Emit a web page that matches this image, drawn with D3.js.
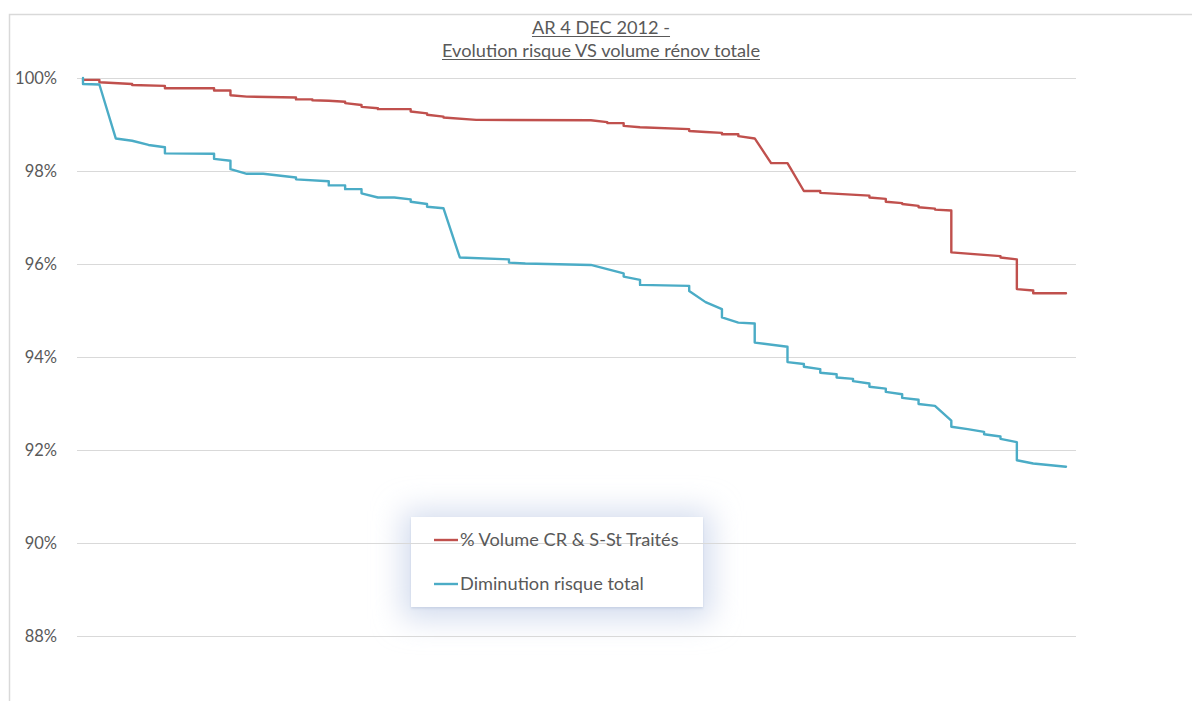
<!DOCTYPE html>
<html>
<head>
<meta charset="utf-8">
<script src="https://cdn.jsdelivr.net/npm/d3@7"></script>
<style>
  html, body { margin: 0; padding: 0; background: #ffffff; }
  svg { display: block; }
  text { font-family: Lato, "Open Sans", sans-serif; fill: #595959; }
</style>
</head>
<body>
<svg id="chart" width="1192" height="701"></svg>
<script>
// Title lines
const titleLines = ["AR 4 DEC 2012 -", "Evolution risque VS volume rénov totale"];

// Y axis ticks (percent) and their labels
const yTicks = [88, 90, 92, 94, 96, 98, 100];
const yTickLabels = ["88%", "90%", "92%", "94%", "96%", "98%", "100%"];

// Series names
const seriesNames = ["% Volume CR & S-St Traités", "Diminution risque total"];

// % Volume CR & S-St Traités : [step index, value %]
const volumePoints = [
  [0, 99.96], [1, 99.96], [1, 99.91], [3, 99.87], [3, 99.85], [5, 99.83], [5, 99.78],
  [8, 99.78], [8, 99.73], [9, 99.73], [9, 99.63], [10, 99.60], [13, 99.58], [13, 99.54],
  [14, 99.54], [14, 99.52], [15, 99.51], [16, 99.49], [16, 99.46], [17, 99.42], [17, 99.38],
  [18, 99.35], [18, 99.33], [20, 99.33], [20, 99.28], [21, 99.24], [21, 99.21], [22, 99.17],
  [22, 99.15], [24, 99.10], [31, 99.09], [32, 99.05], [32, 99.03], [33, 99.03], [33, 98.97],
  [34, 98.94], [37, 98.90], [37, 98.86], [38, 98.84], [39, 98.82], [39, 98.79], [40, 98.79],
  [40, 98.75], [41, 98.70], [42, 98.17], [43, 98.17], [44, 97.57], [45, 97.57], [45, 97.53],
  [48, 97.47], [48, 97.43], [49, 97.40], [49, 97.34], [50, 97.31], [50, 97.29], [51, 97.25],
  [51, 97.22], [52, 97.19], [52, 97.17], [53, 97.15], [53, 96.25], [56, 96.17], [56, 96.14],
  [57, 96.10], [57, 95.46], [58, 95.43], [58, 95.37], [60, 95.37]
];

// Diminution risque total : [step index, value %]
const riskPoints = [
  [0, 100.0], [0, 99.87], [1, 99.86], [2, 98.70], [3, 98.65], [4, 98.56], [5, 98.51],
  [5, 98.38], [8, 98.37], [8, 98.26], [9, 98.22], [9, 98.04], [10, 97.94], [11, 97.94],
  [13, 97.86], [13, 97.82], [15, 97.78], [15, 97.69], [16, 97.69], [16, 97.61], [17, 97.61],
  [17, 97.52], [18, 97.43], [19, 97.43], [20, 97.39], [20, 97.34], [21, 97.29], [21, 97.23],
  [22, 97.20], [23, 96.14], [26, 96.10], [26, 96.03], [27, 96.01], [31, 95.98], [32, 95.89],
  [33, 95.80], [33, 95.73], [34, 95.66], [34, 95.55], [37, 95.53], [37, 95.42], [38, 95.18],
  [39, 95.03], [39, 94.85], [40, 94.74], [41, 94.72], [41, 94.31], [43, 94.22], [43, 93.89],
  [44, 93.85], [44, 93.79], [45, 93.74], [45, 93.66], [46, 93.63], [46, 93.56], [47, 93.53],
  [47, 93.48], [48, 93.43], [48, 93.36], [49, 93.32], [49, 93.25], [50, 93.20], [50, 93.12],
  [51, 93.08], [51, 92.99], [52, 92.95], [53, 92.63], [53, 92.50], [54, 92.45], [55, 92.39],
  [55, 92.34], [56, 92.29], [56, 92.24], [57, 92.17], [57, 91.78], [58, 91.71], [60, 91.64]
];

const seriesColors = ["#C0504D", "#4BACC6"];

const svg = d3.select("#chart");

// Chart frame
svg.append("rect")
  .attr("x", 9.5).attr("y", 14.5)
  .attr("width", 1300).attr("height", 800)
  .attr("fill", "#ffffff")
  .attr("stroke", "#d9d9d9").attr("stroke-width", 1.5);

// Scales
const x = d3.scaleLinear().domain([0, 60]).range([83, 1066]);
const y = d3.scaleLinear().domain([88, 100]).range([636, 78]);
const gridLeft = 77, gridRight = 1076;

// Legend (drawn below the grid so grid lines pass over it)
const defs = svg.append("defs");
const glow = defs.append("filter").attr("id", "glow")
  .attr("x", "-50%").attr("y", "-80%").attr("width", "200%").attr("height", "260%");
glow.append("feGaussianBlur").attr("stdDeviation", 15);
const edge = defs.append("filter").attr("id", "edge")
  .attr("x", "-10%").attr("y", "-20%").attr("width", "120%").attr("height", "150%");
edge.append("feDropShadow").attr("dx", 0).attr("dy", 1.5)
  .attr("stdDeviation", 1.2).attr("flood-color", "#b8c4da").attr("flood-opacity", 0.6);

const legend = { x: 411, y: 517, w: 292, h: 90 };
svg.append("rect")
  .attr("x", legend.x - 8).attr("y", legend.y - 6)
  .attr("width", legend.w + 16).attr("height", legend.h + 18)
  .attr("fill", "#d3dcee")
  .attr("filter", "url(#glow)");
svg.append("rect")
  .attr("x", legend.x).attr("y", legend.y)
  .attr("width", legend.w).attr("height", legend.h)
  .attr("fill", "#ffffff")
  .attr("filter", "url(#edge)");

// Grid lines
svg.append("g").selectAll("line")
  .data(yTicks)
  .join("line")
  .attr("x1", gridLeft).attr("x2", gridRight)
  .attr("y1", d => Math.round(y(d)) + 0.5).attr("y2", d => Math.round(y(d)) + 0.5)
  .attr("stroke", "#d9d9d9").attr("stroke-width", 1.2);

// Y axis labels
const yAxis = d3.axisLeft(y)
  .tickValues(yTicks)
  .tickFormat((d, i) => yTickLabels[i])
  .tickSize(0)
  .tickPadding(0);
const yAxisG = svg.append("g")
  .attr("transform", "translate(57,0)")
  .call(yAxis);
yAxisG.select(".domain").remove();
yAxisG.selectAll("text")
  .attr("font-family", "Lato, 'Open Sans', sans-serif")
  .attr("font-size", 16.5)
  .attr("fill", "#595959")
  .attr("dy", "0.36em");

// Series lines
const line = d3.line().x(d => x(d[0])).y(d => y(d[1]));
[volumePoints, riskPoints].forEach((pts, i) => {
  svg.append("path")
    .datum(pts)
    .attr("d", line)
    .attr("fill", "none")
    .attr("stroke", seriesColors[i])
    .attr("stroke-width", 2.4)
    .attr("stroke-linejoin", "round")
    .attr("stroke-linecap", "round");
});

// Legend entries
const legendRows = [540, 584];
seriesNames.forEach((name, i) => {
  svg.append("line")
    .attr("x1", 434).attr("x2", 458)
    .attr("y1", legendRows[i]).attr("y2", legendRows[i])
    .attr("stroke", seriesColors[i]).attr("stroke-width", 2.4);
  svg.append("text")
    .attr("x", 460).attr("y", legendRows[i] + 6)
    .attr("font-size", 18.2)
    .text(name);
});

// Title with underline
const titleBaselines = [34, 57];
titleLines.forEach((t, i) => {
  const txt = svg.append("text")
    .attr("x", 601).attr("y", titleBaselines[i])
    .attr("text-anchor", "middle")
    .attr("font-size", 18.2)
    .text(t);
  const w = txt.node().getComputedTextLength();
  svg.append("line")
    .attr("x1", 601 - w / 2).attr("x2", 601 + w / 2)
    .attr("y1", titleBaselines[i] + 2.5).attr("y2", titleBaselines[i] + 2.5)
    .attr("stroke", "#595959").attr("stroke-width", 1);
});
</script>
</body>
</html>
